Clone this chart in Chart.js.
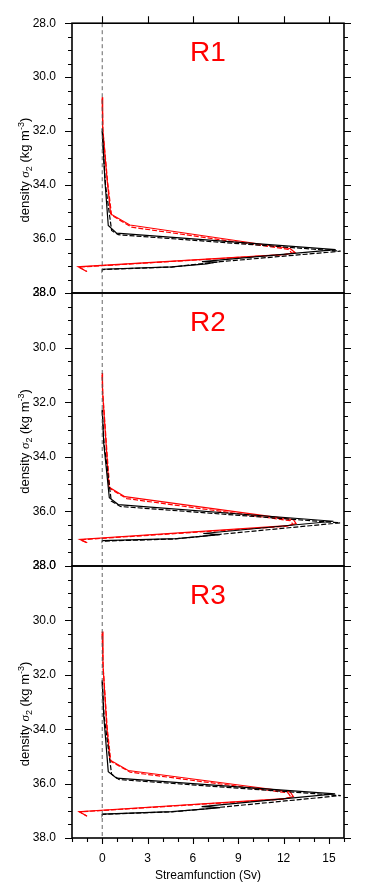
<!DOCTYPE html>
<html><head><meta charset="utf-8">
<script src="https://cdn.jsdelivr.net/npm/chart.js@4.4.1/dist/chart.umd.min.js"></script>
<style>
html,body{margin:0;padding:0;background:#fff;}
#wrap{position:relative;width:365px;height:895px;background:#fff;}
#wrap canvas{position:absolute;left:0;top:0;}
</style></head><body>
<div id="wrap">
<canvas id="c1" width="365" height="895"></canvas>
<canvas id="c2" width="365" height="895"></canvas>
<canvas id="c3" width="365" height="895"></canvas>
</div>
<script>
// ---- data ----
const PANEL_NAMES = ['R1', 'R2', 'R3'];
const Y_TICKS = [28, 30, 32, 34, 36, 38];
const X_TICKS = [0, 3, 6, 9, 12, 15];
const X_TITLE = 'Streamfunction (Sv)';
const ZERO_SIG = [28, 38];
const ZERO_PSI = [0, 0];

// panel R1
const R1_RS_SIG = [30.74, 31.90, 33.85, 35.07, 35.48, 36.35, 36.50, 36.57, 37.03, 37.20];
const R1_RS_PSI = [0.00, 0.03, 0.33, 0.56, 1.83, 12.43, 12.76, 12.20, -1.59, -1.03];
const R1_RD_SIG = [30.80, 32.00, 33.90, 35.12, 35.56, 36.38, 36.52, 36.58, 37.04, 37.20];
const R1_RD_PSI = [0.00, 0.05, 0.36, 0.62, 1.95, 12.30, 12.55, 12.00, -1.55, -1.00];
const R1_BS_SIG = [31.90, 32.80, 33.85, 35.50, 35.78, 36.39, 36.84, 36.86, 36.92, 37.03, 37.12, 37.15];
const R1_BS_PSI = [0.00, 0.08, 0.18, 0.40, 0.95, 15.45, 6.60, 7.50, 6.90, 4.60, 0.02, 0.00];
const R1_BD_SIG = [32.00, 33.00, 34.00, 35.68, 35.84, 36.45, 36.84, 36.90, 37.04, 37.13];
const R1_BD_PSI = [0.00, 0.10, 0.22, 0.62, 1.06, 15.78, 7.80, 6.80, 4.60, 0.02];

// panel R2
const R2_RS_SIG = [30.93, 31.60, 33.90, 35.11, 35.46, 36.30, 36.45, 36.52, 37.03, 37.15];
const R2_RS_PSI = [0.00, 0.02, 0.30, 0.44, 1.50, 12.65, 12.83, 12.30, -1.48, -0.99];
const R2_RD_SIG = [31.00, 31.70, 33.95, 35.16, 35.53, 36.34, 36.48, 36.55, 37.04, 37.16];
const R2_RD_PSI = [0.00, 0.04, 0.33, 0.50, 1.62, 12.45, 12.62, 12.10, -1.45, -0.95];
const R2_BS_SIG = [32.27, 33.50, 35.50, 35.75, 36.36, 36.81, 36.85, 36.90, 37.00, 37.07, 37.09];
const R2_BS_PSI = [0.00, 0.10, 0.47, 1.06, 15.30, 6.69, 7.79, 6.90, 4.93, 0.02, 0.00];
const R2_BD_SIG = [32.30, 33.50, 35.62, 35.82, 36.42, 36.84, 36.90, 37.01, 37.09];
const R2_BD_PSI = [0.00, 0.12, 0.60, 1.20, 15.74, 7.80, 6.80, 4.80, 0.02];

// panel R3
const R3_RS_SIG = [30.41, 31.64, 33.90, 35.13, 35.52, 36.30, 36.48, 36.55, 37.03, 37.19];
const R3_RS_PSI = [0.00, 0.05, 0.30, 0.51, 1.72, 12.43, 12.65, 12.10, -1.52, -1.03];
const R3_RD_SIG = [30.50, 31.70, 33.95, 35.18, 35.58, 36.34, 36.50, 36.57, 37.04, 37.20];
const R3_RD_PSI = [0.00, 0.06, 0.33, 0.57, 1.85, 12.30, 12.50, 12.00, -1.50, -1.00];
const R3_BS_SIG = [32.20, 33.50, 35.56, 35.80, 36.38, 36.85, 36.88, 36.93, 37.03, 37.12, 37.15];
const R3_BS_PSI = [0.00, 0.10, 0.40, 0.95, 15.41, 6.58, 7.80, 6.90, 4.60, 0.02, 0.00];
const R3_BD_SIG = [32.25, 33.50, 35.65, 35.85, 36.44, 36.87, 36.93, 37.04, 37.13];
const R3_BD_PSI = [0.00, 0.12, 0.62, 1.10, 15.79, 7.80, 6.80, 4.60, 0.02];

const PANELS = [
  {rs:[R1_RS_PSI,R1_RS_SIG], rd:[R1_RD_PSI,R1_RD_SIG], bs:[R1_BS_PSI,R1_BS_SIG], bd:[R1_BD_PSI,R1_BD_SIG]},
  {rs:[R2_RS_PSI,R2_RS_SIG], rd:[R2_RD_PSI,R2_RD_SIG], bs:[R2_BS_PSI,R2_BS_SIG], bd:[R2_BD_PSI,R2_BD_SIG]},
  {rs:[R3_RS_PSI,R3_RS_SIG], rd:[R3_RD_PSI,R3_RD_SIG], bs:[R3_BS_PSI,R3_BS_SIG], bd:[R3_BD_PSI,R3_BD_SIG]}
];

// ---- drawing ----
const FONT = '"Liberation Sans", Arial, Helvetica, sans-serif';
Chart.defaults.font.family = FONT;
Chart.defaults.color = '#000';

function pts(psi, sig) { return psi.map((v, i) => ({x: v, y: sig[i]})); }

const decor = {
  id: 'decor',
  afterDraw(chart, args, o) {
    const ctx = chart.ctx, a = chart.chartArea;
    const xs = chart.scales.x, ys = chart.scales.y;
    ctx.save();
    ctx.strokeStyle = '#000';
    // ticks
    ctx.lineWidth = 1.1;
    ctx.beginPath();
    for (let v = 28; v <= 38.001; v += 0.5) {
      const y = Math.round(ys.getPixelForValue(v)) + 0.5;
      const major = Math.abs(v / 2 - Math.round(v / 2)) < 1e-6;
      const L = major ? 7 : 4;
      ctx.moveTo(a.left - L, y); ctx.lineTo(a.left, y);
      ctx.moveTo(a.right, y); ctx.lineTo(a.right + L, y);
    }
    if (o.topTicks) {
      X_TICKS.forEach(v => {
        const x = Math.round(xs.getPixelForValue(v)) + 0.5;
        ctx.moveTo(x, a.top - 7); ctx.lineTo(x, a.top);
      });
    }
    if (o.bottomTicks) {
      for (let v = -2; v <= 16; v += 1) {
        const x = Math.round(xs.getPixelForValue(v)) + 0.5;
        const L = X_TICKS.includes(v) ? 6 : 4;
        ctx.moveTo(x, a.bottom); ctx.lineTo(x, a.bottom + L);
      }
    }
    ctx.stroke();
    // frame
    ctx.lineWidth = 1.6;
    ctx.strokeRect(a.left, a.top, a.right - a.left, a.bottom - a.top);
    // panel title
    ctx.fillStyle = '#ff0000';
    ctx.font = '28px ' + FONT;
    ctx.textAlign = 'center';
    ctx.textBaseline = 'alphabetic';
    ctx.fillText(o.name, (a.left + a.right) / 2, a.top + 38);
    // y title with sub/superscripts
    const parts = [
      {t: 'density ', f: '13px ' + FONT, dy: 0},
      {t: '\u03C3', f: 'italic 13px "Liberation Serif", serif', dy: 0},
      {t: '2', f: '9px ' + FONT, dy: 3},
      {t: ' (kg m', f: '13px ' + FONT, dy: 0},
      {t: '-3', f: '9px ' + FONT, dy: -5},
      {t: ')', f: '13px ' + FONT, dy: 0}
    ];
    let total = 0;
    parts.forEach(p => { ctx.font = p.f; p.w = ctx.measureText(p.t).width; total += p.w; });
    ctx.translate(29, (a.top + a.bottom) / 2 + 12);
    ctx.rotate(-Math.PI / 2);
    ctx.fillStyle = '#000';
    ctx.textAlign = 'left';
    let x = -total / 2;
    parts.forEach(p => { ctx.font = p.f; ctx.fillText(p.t, x, p.dy); x += p.w; });
    ctx.restore();
  }
};

function makePanel(idx) {
  const P = PANELS[idx];
  const bottom = idx === 2;
  const padTop = [20, 293, 566][idx];
  const padBottom = [895 - 293, 895 - 566, 0][idx];
  const line = (d, color, dash) => ({
    data: pts(d[0], d[1]), borderColor: color, borderWidth: 1.2, borderDash: dash,
    showLine: true, pointRadius: 0, fill: false, tension: 0
  });
  return new Chart(document.getElementById('c' + (idx + 1)), {
    type: 'scatter',
    data: {
      datasets: [
        {data: pts(ZERO_PSI, ZERO_SIG), borderColor: '#555', borderWidth: 0.9, borderDash: [4, 3],
         showLine: true, pointRadius: 0, fill: false},
        line(P.bd, '#000', [5, 2]),
        line(P.bs, '#000', []),
        line(P.rd, '#ff0000', [5, 2]),
        line(P.rs, '#ff0000', [])
      ]
    },
    options: {
      responsive: false, devicePixelRatio: 1, animation: false,
      layout: {padding: {left: 0, right: 21, top: padTop, bottom: padBottom}},
      plugins: {legend: {display: false}, tooltip: {enabled: false},
        decor: {name: PANEL_NAMES[idx], topTicks: idx === 0, bottomTicks: bottom}},
      scales: {
        x: {
          type: 'linear', min: -2, max: 16, display: bottom,
          grid: {display: false, drawTicks: false, tickLength: 0}, border: {display: false},
          afterBuildTicks: s => { s.ticks = X_TICKS.map(v => ({value: v})); },
          afterFit: s => { s.height = bottom ? 57 : 0; },
          ticks: {font: {size: 12}, color: '#000', padding: 13, maxRotation: 0, autoSkip: false,
                  callback: v => String(v)},
          title: {display: true, text: X_TITLE, font: {size: 12}, color: '#000', padding: {top: 0, bottom: 12}}
        },
        y: {
          type: 'linear', min: 28, max: 38, reverse: true,
          grid: {display: false, drawTicks: false, tickLength: 0}, border: {display: false},
          afterBuildTicks: s => { s.ticks = Y_TICKS.map(v => ({value: v})); },
          afterFit: s => { s.width = 72; },
          ticks: {font: {size: 12}, color: '#000', padding: 16, autoSkip: false,
                  callback: v => Number(v).toFixed(1)}
        }
      }
    },
    plugins: [decor]
  });
}
[0, 1, 2].forEach(makePanel);
</script>
</body></html>
